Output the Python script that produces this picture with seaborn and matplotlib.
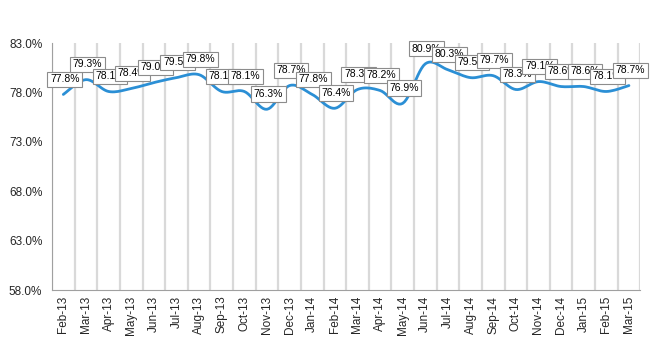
import numpy as np
import pandas as pd
import matplotlib
matplotlib.use("Agg")
import matplotlib.pyplot as plt
import seaborn as sns

months = ["Feb-13", "Mar-13", "Apr-13", "May-13", "Jun-13", "Jul-13", "Aug-13",
          "Sep-13", "Oct-13", "Nov-13", "Dec-13", "Jan-14", "Feb-14", "Mar-14",
          "Apr-14", "May-14", "Jun-14", "Jul-14", "Aug-14", "Sep-14", "Oct-14",
          "Nov-14", "Dec-14", "Jan-15", "Feb-15", "Mar-15"]
values = [77.8, 79.3, 78.1, 78.4, 79.0, 79.5, 79.8, 78.1, 78.1, 76.3, 78.7, 77.8,
          76.4, 78.3, 78.2, 76.9, 80.9, 80.3, 79.5, 79.7, 78.3, 79.1, 78.6, 78.6,
          78.1, 78.7]
y_ticks = [58.0, 63.0, 68.0, 73.0, 78.0, 83.0]

sns.set_theme(style="white")
plt.rcParams["font.family"] = ["Liberation Sans", "DejaVu Sans"]

df = pd.DataFrame({"month": months, "value": values})
df["pos"] = np.arange(len(df))


def smooth_path(x, y, n=12):
    """Catmull-Rom smoothing of the drawn path (Excel 'smoothed line' style)."""
    x = np.asarray(x, float)
    y = np.asarray(y, float)
    px = np.concatenate([[x[0]], x, [x[-1]]])
    py = np.concatenate([[y[0]], y, [y[-1]]])
    xs, ys = [], []
    t = np.linspace(0, 1, n, endpoint=False)
    for i in range(1, len(px) - 2):
        for arr, out in ((px, xs), (py, ys)):
            p0, p1, p2, p3 = arr[i - 1], arr[i], arr[i + 1], arr[i + 2]
            out.extend(0.5 * ((2 * p1) + (-p0 + p2) * t
                              + (2 * p0 - 5 * p1 + 4 * p2 - p3) * t ** 2
                              + (-p0 + 3 * p1 - 3 * p2 + p3) * t ** 3))
    xs.append(x[-1])
    ys.append(y[-1])
    return np.array(xs), np.array(ys)


fig = plt.figure(figsize=(6.5, 3.5), dpi=100)
ax = fig.add_axes([0.08, 0.171, 0.905, 0.706])

sx, sy = smooth_path(df["pos"], df["value"])
sns.lineplot(x=sx, y=sy, ax=ax, color="#2b8fd5", linewidth=2.0, sort=False)

ax.set_xlim(-0.5, len(df) - 0.5)
ax.set_ylim(58, 83)
ax.set_yticks(y_ticks)
ax.set_yticklabels([f"{v:.1f}%" for v in y_ticks], fontsize=8.5)
ax.set_xticks(df["pos"])
ax.set_xticklabels(df["month"], rotation=90, fontsize=8.5)
ax.set_xticks(np.arange(-0.5, len(df), 1.0), minor=True)
ax.grid(False)
ax.grid(True, which="minor", axis="x", color="#d9d9d9", linewidth=1.6)
ax.tick_params(axis="x", which="major", length=0, pad=4)
ax.tick_params(axis="x", which="minor", length=4, color="#a0a0a0", width=0.8, direction="out")
ax.tick_params(axis="y", length=4, color="#a0a0a0", width=0.8, direction="out", pad=3)
ax.set_xlabel("")
ax.set_ylabel("")
for s in ["top", "right"]:
    ax.spines[s].set_visible(False)
for s in ["left", "bottom"]:
    ax.spines[s].set_color("#a0a0a0")
    ax.spines[s].set_linewidth(0.8)

for p, v in zip(df["pos"], df["value"]):
    ax.annotate(f"{v:.1f}%", (p, v), xytext=(1, 11), textcoords="offset points",
                ha="center", va="center", fontsize=7.5, color="black",
                bbox=dict(boxstyle="square,pad=0.25", fc="white", ec="#8c8c8c", lw=0.8))

fig.savefig("out.png", dpi=100)
